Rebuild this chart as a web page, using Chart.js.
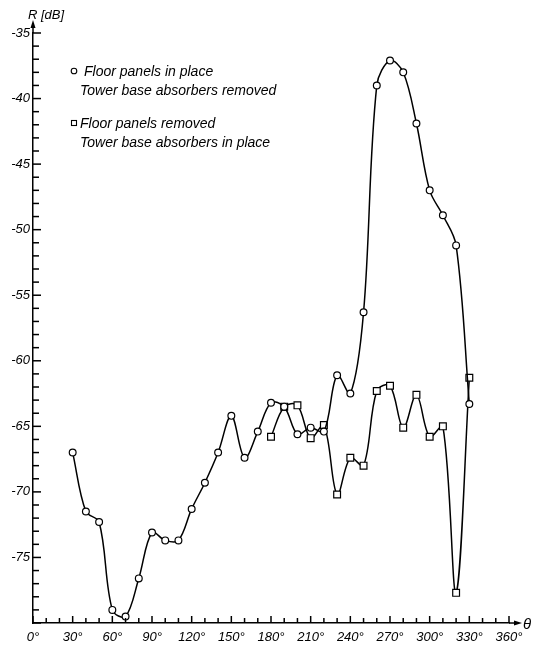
<!DOCTYPE html>
<html>
<head>
<meta charset="utf-8">
<script src="https://cdn.jsdelivr.net/npm/chart.js@4.4.1/dist/chart.umd.min.js"></script>
<style>
html, body { margin: 0; padding: 0; background: #fff; }
#wrap { width: 534px; height: 648px; }
</style>
</head>
<body>
<div id="wrap"><canvas id="myChart" width="534" height="648"></canvas></div>
<script>
// floor panels in place, tower base absorbers removed (circles)
var anglesA = [30, 40, 50, 60, 70, 80, 90, 100, 110, 120, 130, 140, 150, 160, 170, 180,
               190, 200, 210, 220, 230, 240, 250, 260, 270, 280, 290, 300, 310, 320, 330];
var panelsInPlace = [-67.0, -71.5, -72.3, -79.0, -79.5, -76.6, -73.1, -73.7, -73.7, -71.3, -69.3, -67.0, -64.2, -67.4, -65.4, -63.2,
                     -63.5, -65.6, -65.1, -65.4, -61.1, -62.5, -56.3, -39.0, -37.1, -38.0, -41.9, -47.0, -48.9, -51.2, -63.3];

// floor panels removed, tower base absorbers in place (squares)
var anglesB = [180, 190, 200, 210, 220, 230, 240, 250, 260, 270, 280, 290, 300, 310, 320, 330];
var panelsRemoved = [-65.8, -63.5, -63.4, -65.9, -64.9, -70.2, -67.4, -68.0, -62.3, -61.9, -65.1, -62.6, -65.8, -65.0, -77.7, -61.3];

var xTickLabels = [0, 30, 60, 90, 120, 150, 180, 210, 240, 270, 300, 330, 360];
var yTickLabels = [-35, -40, -45, -50, -55, -60, -65, -70, -75];

var labelA = ["Floor panels in place", "Tower base absorbers removed"];
var labelB = ["Floor panels removed", "Tower base absorbers in place"];

var FONT = 'italic 13px "Liberation Sans"';
var LEGEND_FONT = 'italic 14px "Liberation Sans"';

function toPoints(xs, ys) {
	var out = [];
	for (var i = 0; i < xs.length; i++) out.push({ x: xs[i], y: ys[i] });
	return out;
}

function line(ctx, x1, y1, x2, y2) {
	ctx.beginPath();
	ctx.moveTo(x1, y1);
	ctx.lineTo(x2, y2);
	ctx.stroke();
}

// ticks pointing inward, axis arrows, axis titles and the legend
var extras = {
	id: 'extras',
	afterDraw: function(chart) {
		var ctx = chart.ctx;
		var xs = chart.scales.x, ys = chart.scales.y;
		var x0 = xs.getPixelForValue(0), y0 = ys.getPixelForValue(-80);
		ctx.save();
		ctx.strokeStyle = '#000';
		ctx.fillStyle = '#000';
		ctx.lineWidth = 1.5;

		for (var a = 0; a <= 360; a += 10) {
			var px = xs.getPixelForValue(a);
			line(ctx, px, y0, px, y0 - (a % 30 === 0 ? 7 : 5));
		}
		for (var v = -80; v <= -35; v++) {
			var py = ys.getPixelForValue(v);
			line(ctx, x0, py, x0 + (v % 5 === 0 ? 8 : 6), py);
		}

		// y axis arrow
		var yTop = ys.getPixelForValue(-35);
		line(ctx, x0, yTop, x0, yTop - 10);
		ctx.beginPath();
		ctx.moveTo(x0, yTop - 13);
		ctx.lineTo(x0 - 2.5, yTop - 5);
		ctx.lineTo(x0 + 2.5, yTop - 5);
		ctx.closePath();
		ctx.fill();

		// x axis arrow
		var xEnd = xs.getPixelForValue(360);
		line(ctx, xEnd, y0, xEnd + 9, y0);
		ctx.beginPath();
		ctx.moveTo(xEnd + 13, y0);
		ctx.lineTo(xEnd + 5, y0 - 2.5);
		ctx.lineTo(xEnd + 5, y0 + 2.5);
		ctx.closePath();
		ctx.fill();

		ctx.font = FONT;
		ctx.textBaseline = 'alphabetic';
		ctx.textAlign = 'left';
		ctx.fillText('R [dB]', 28, 19);
		ctx.font = 'italic 15px "Liberation Sans"';
		ctx.fillText('θ', xEnd + 14, y0 + 6);

		// legend
		ctx.font = LEGEND_FONT;
		ctx.lineWidth = 1.1;
		ctx.beginPath();
		ctx.arc(74, 71, 2.8, 0, Math.PI * 2);
		ctx.stroke();
		ctx.fillText(labelA[0], 84, 76);
		ctx.fillText(labelA[1], 80, 95);
		ctx.strokeRect(71.5, 120.5, 5, 5);
		ctx.fillText(labelB[0], 80, 128);
		ctx.fillText(labelB[1], 80, 147);
		ctx.restore();
	}
};

var ctx = document.getElementById("myChart");
var myChart = new Chart(ctx, {
	type: 'line',
	data: {
		datasets: [
			{
				data: toPoints(anglesA, panelsInPlace),
				borderColor: '#000',
				borderWidth: 1.5,
				tension: 0.35,
				pointStyle: 'circle',
				pointRadius: 3.4,
				pointBackgroundColor: '#fff',
				pointBorderColor: '#000',
				pointBorderWidth: 1.2,
				fill: false,
				clip: false
			},
			{
				data: toPoints(anglesB, panelsRemoved),
				borderColor: '#000',
				borderWidth: 1.5,
				tension: 0.35,
				pointStyle: 'rect',
				pointRadius: 4.8,
				pointBackgroundColor: '#fff',
				pointBorderColor: '#000',
				pointBorderWidth: 1.2,
				fill: false,
				clip: false
			}
		]
	},
	options: {
		responsive: false,
		animation: false,
		layout: { padding: { left: 0, top: 33, right: 25, bottom: 0 } },
		plugins: { legend: { display: false }, tooltip: { enabled: false } },
		scales: {
			x: {
				type: 'linear',
				min: 0,
				max: 360,
				grid: { display: false, drawTicks: false },
				border: { display: true, color: '#000', width: 1.5 },
				afterFit: function(scale) { scale.height = 25; },
				afterBuildTicks: function(scale) {
					scale.ticks = xTickLabels.map(function(v) { return { value: v }; });
				},
				ticks: {
					padding: 7,
					maxRotation: 0,
					autoSkip: false,
					color: '#000',
					font: { family: 'Liberation Sans', size: 13, style: 'italic' },
					callback: function(v) { return v + '°'; }
				}
			},
			y: {
				type: 'linear',
				min: -80,
				max: -35,
				grid: { display: false, drawTicks: false },
				border: { display: true, color: '#000', width: 1.5 },
				afterFit: function(scale) { scale.width = 33; },
				afterBuildTicks: function(scale) {
					scale.ticks = yTickLabels.map(function(v) { return { value: v }; });
				},
				ticks: {
					padding: 3,
					autoSkip: false,
					color: '#000',
					font: { family: 'Liberation Sans', size: 13, style: 'italic' },
					callback: function(v) { return String(v); }
				}
			}
		}
	},
	plugins: [extras]
});
</script>
</body>
</html>
